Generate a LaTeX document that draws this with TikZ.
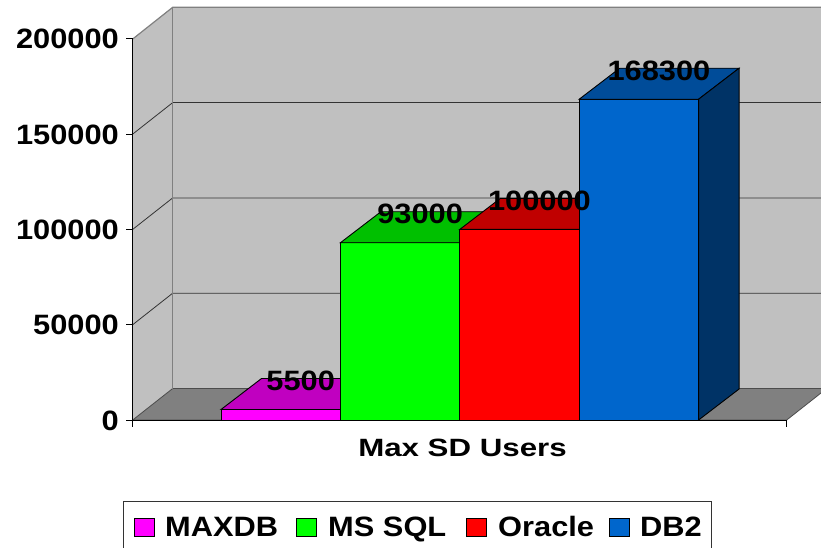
\documentclass[tikz,border=0pt]{standalone}
\usepackage{fontspec}
\setmainfont{Liberation Sans}
\definecolor{wallgray}{HTML}{C0C0C0}
\definecolor{floorgray}{HTML}{808080}
\definecolor{maxdbfront}{HTML}{FF00FF}
\definecolor{maxdbtop}{HTML}{C000C0}
\definecolor{mssqlfront}{HTML}{00FF00}
\definecolor{mssqltop}{HTML}{00C000}
\definecolor{oraclefront}{HTML}{FF0000}
\definecolor{oracletop}{HTML}{C00000}
\definecolor{dbtwofront}{HTML}{0066CC}
\definecolor{dbtwotop}{HTML}{004C99}
\definecolor{dbtwoside}{HTML}{003366}
\tikzset{
  numlabel/.style={font=\fontsize{28}{30}\selectfont\bfseries,xscale=1.1,inner sep=0pt},
  barline/.style={draw=black,line width=0.9pt},
  keybox/.style={draw=black,line width=0.8pt,minimum width=20pt,minimum height=18pt,inner sep=0pt}
}
\begin{document}
\begin{tikzpicture}[x=1pt,y=-1pt]
	\useasboundingbox (0,0) rectangle (821,548);
	\clip (0,0) rectangle (821,548);
	\fill[wallgray] (132.7,420) -- (172.7,388.5) -- (172.7,7.3) -- (132.7,39) -- cycle;
	\fill[wallgray] (172.7,7.3) rectangle (840,388.5);
	\filldraw[fill=floorgray,draw=black!70,line width=0.8pt] (132.7,420) -- (786.7,420) -- (826.7,388.5) -- (172.7,388.5) -- cycle;
	\foreach \k in {1,2,3}
		\draw[black!80,line width=0.8pt] (132.7,420-95.3*\k) -- (172.7,388.5-95.3*\k) -- (840,388.5-95.3*\k);
	\draw[floorgray,line width=1.2pt] (132.7,39) -- (172.7,7.3) -- (840,7.3);
	\draw[floorgray,line width=1.2pt] (172.7,7.3) -- (172.7,388.5);
	\draw[line width=0.9pt] (132.7,39) -- (132.7,426.7);
	\draw[line width=0.9pt] (132.7,420) -- (786.7,420) -- (786.7,426.7);
	\foreach \v [count=\k from 0] in {0,50000,100000,150000,200000} {
		\draw[line width=0.9pt] (126,420-95.3*\k) -- (132.7,420-95.3*\k);
		\node[numlabel,anchor=base east] (ylab\k) at (119,430-95.3*\k) {\v};
	}
	\foreach \name/\v/\txt [count=\i from 0] in {maxdb/5.5/5500,mssql/93/93000,oracle/100/100000,dbtwo/168.3/168300} {
		\pgfmathsetmacro\xa{221+119.4*\i}
		\pgfmathsetmacro\xb{\xa+119.4}
		\pgfmathsetmacro\h{420-\v*1.906}
		\filldraw[barline,fill=\name front] (\xa,420) rectangle (\xb,\h);
		\filldraw[barline,fill=\name top] (\xa,\h) -- (\xb,\h) -- (\xb+40.5,\h-31) -- (\xa+40.5,\h-31) -- cycle;
		\coordinate (\name) at ({(\xa+\xb)/2+20},\h-19);
	}
	\filldraw[barline,fill=dbtwoside] (698.6,420) -- (698.6,99.2) -- (739.1,68.2) -- (739.1,389) -- cycle;
	\node[numlabel,anchor=base] (lmaxdb) at (maxdb) {5500};
	\node[numlabel,anchor=base] (lmssql) at (mssql) {93000};
	\node[numlabel,anchor=base] (loracle) at (oracle) {100000};
	\node[numlabel,anchor=base] (ldbtwo) at (dbtwo) {168300};
	\node[font=\fontsize{25}{27}\selectfont\bfseries,xscale=1.25,inner sep=0pt,anchor=base] (xtitle) at (462.5,456) {Max SD Users};
	\draw[black!80,line width=0.9pt] (123.3,560) -- (123.3,501.7) -- (711.7,501.7) -- (711.7,560);
	\foreach \name/\txt/\kx/\tx in {maxdb/MAXDB/144/165,mssql/MS SQL/306.7/328,oracle/Oracle/476.3/498,dbtwo/DB2/619.3/640} {
		\node[keybox,fill=\name front] (key\name) at (\kx,527.5) {};
		\node[numlabel,anchor=base west] (leg\name) at (\tx,536.7) {\txt};
	}
\end{tikzpicture}
\end{document}
